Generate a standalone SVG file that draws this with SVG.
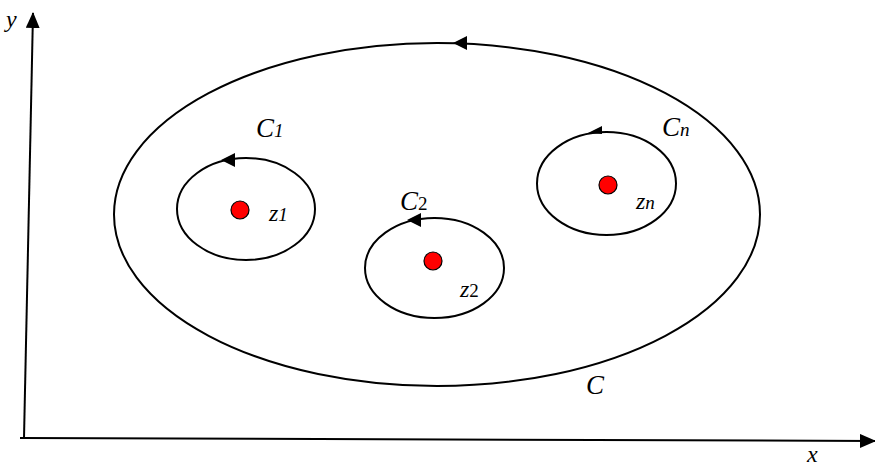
<svg xmlns="http://www.w3.org/2000/svg" width="875" height="468" viewBox="0 0 875 468">
<style>
.ln{fill:none;stroke:#000;stroke-width:2}
.dot{fill:#f00;stroke:#000;stroke-width:1.2}
.t{font-family:"Liberation Serif","Times New Roman",serif;font-style:italic;fill:#000}
.big{font-size:27px}
.sub{font-size:19px}
.mid{font-size:24px}
</style>
<defs>
<marker id="ah" markerWidth="16" markerHeight="14" refX="15" refY="7" orient="auto" markerUnits="userSpaceOnUse">
<path d="M0,0 L16,7 L0,14 Z" fill="#000"/>
</marker>
</defs>
<g id="connectors">
<line class="ln" x1="24" y1="438" x2="33" y2="13" marker-end="url(#ah)"/>
<line class="ln" x1="20" y1="438" x2="875" y2="441" marker-end="url(#ah)"/>
</g>
<g id="C">
<ellipse class="ln" cx="437" cy="214.5" rx="323" ry="171.5"/>
<path d="M453,43 L467,36 L467,50 Z" fill="#000"/>
<text class="t big" x="586" y="394">C</text>
</g>
<g id="C1">
<ellipse class="ln" cx="246" cy="209" rx="69" ry="51"/>
<path d="M221,160 L235,153 L235,167 Z" fill="#000"/>
<text class="t big" x="256" y="137">C<tspan class="sub">1</tspan></text>
</g>
<g id="z1">
<circle class="dot" cx="240" cy="210" r="9"/>
<text class="t mid" x="269" y="221">z<tspan class="sub">1</tspan></text>
</g>
<g id="C2">
<ellipse class="ln" cx="434.5" cy="268" rx="69.5" ry="50"/>
<path d="M407,220 L421,213 L421,227 Z" fill="#000"/>
<text class="t big" x="400" y="210">C<tspan class="sub" font-style="normal">2</tspan></text>
</g>
<g id="z2">
<circle class="dot" cx="433" cy="261" r="9"/>
<text class="t mid" x="460" y="297">z<tspan class="sub" font-style="normal">2</tspan></text>
</g>
<g id="Cn">
<ellipse class="ln" cx="606.5" cy="183.5" rx="69.5" ry="51.5"/>
<path d="M588,133 L602,126 L602,134 Z" fill="#000"/>
<text class="t big" x="662" y="136">C<tspan class="sub">n</tspan></text>
</g>
<g id="zn">
<circle class="dot" cx="608" cy="185" r="9"/>
<text class="t mid" x="636" y="209">z<tspan class="sub">n</tspan></text>
</g>
<text class="t mid" x="6" y="27">y</text>
<text class="t mid" x="807" y="462">x</text>
</svg>
